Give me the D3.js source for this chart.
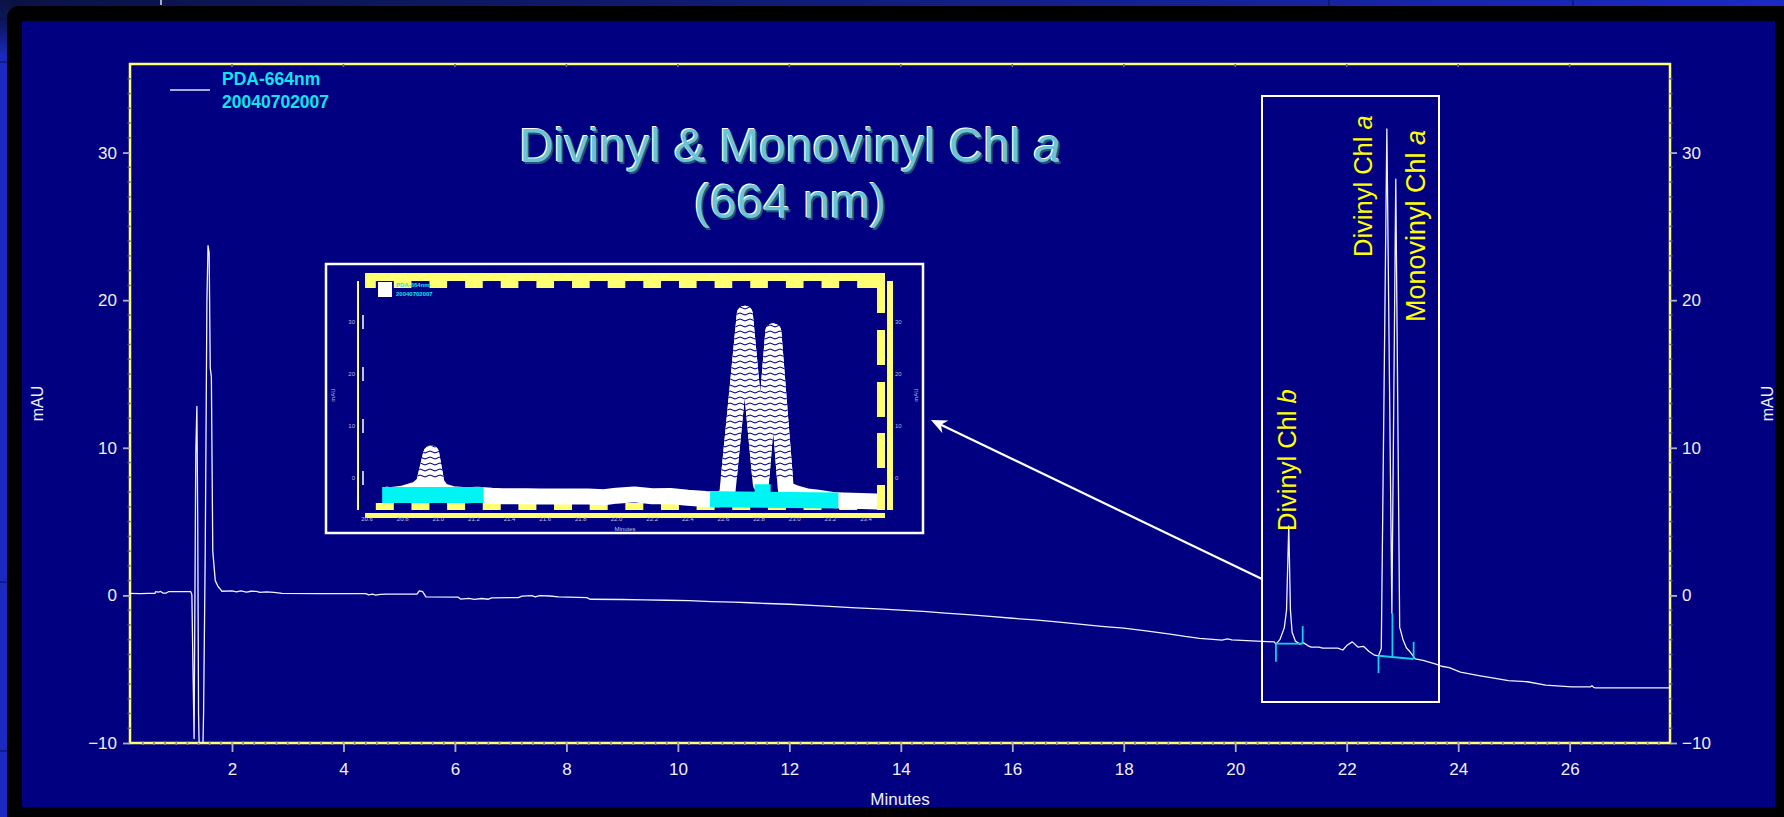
<!DOCTYPE html>
<html><head><meta charset="utf-8">
<script src="https://cdn.jsdelivr.net/npm/d3@7"></script>
<style>html,body{margin:0;padding:0;background:#1a28b8;overflow:hidden}svg{display:block}</style>
</head><body><svg id="c" width="1784" height="817"></svg>
<script>
// ---------- data ----------
const traceMinutes = [0.17,0.35,0.50,0.62,0.63,0.68,0.72,0.76,0.82,0.86,1.05,1.20,1.26,1.28,1.30,1.32,1.335,1.35,1.37,1.385,1.40,1.42,1.47,1.49,1.52,1.55,1.57,1.59,1.61,1.63,1.655,1.70,1.75,1.79,1.82,2.00,2.08,2.16,2.26,2.34,2.44,2.50,2.62,2.75,2.90,3.60,4.40,4.45,4.52,4.58,4.66,4.77,5.32,5.36,5.42,5.48,6.06,6.10,6.25,6.35,6.48,6.60,6.66,7.14,7.20,7.38,7.44,7.52,7.70,7.86,8.37,8.42,9.00,9.40,9.80,10.20,10.60,11.00,11.30,11.60,12.00,12.40,12.80,13.20,13.60,14.00,14.40,14.80,15.20,15.60,16.00,16.40,16.80,17.20,17.60,18.00,18.40,18.80,19.10,19.36,19.60,19.76,19.86,19.94,20.70,20.73,20.80,20.88,20.92,20.96,20.99,21.02,21.08,21.16,21.22,21.30,21.36,21.50,21.57,21.84,21.93,22.00,22.10,22.20,22.30,22.40,22.50,22.57,22.62,22.72,22.81,22.88,22.95,23.01,23.07,23.13,23.23,23.37,23.60,23.70,23.84,24.04,24.37,24.64,24.90,25.24,25.57,26.04,26.37,26.40,26.43,26.45,27.80];
const traceMAU = [0.13,0.12,0.14,0.14,0.25,0.22,0.27,0.16,0.16,0.25,0.25,0.26,0.25,0.05,-5.0,-9.7,0.0,9.6,12.8,5.0,-8.0,-12.0,-12.0,-8.0,3.0,20.0,23.7,23.2,15.4,14.8,3.0,1.0,0.6,0.42,0.28,0.30,0.24,0.30,0.22,0.28,0.27,0.20,0.24,0.20,0.13,0.12,0.12,0.03,0.08,0.02,0.07,0.08,0.08,0.30,0.26,-0.10,-0.12,-0.25,-0.20,-0.27,-0.21,-0.26,-0.17,-0.15,-0.05,-0.02,-0.10,-0.02,-0.04,-0.10,-0.15,-0.26,-0.28,-0.31,-0.33,-0.36,-0.42,-0.46,-0.50,-0.55,-0.60,-0.68,-0.76,-0.84,-0.92,-1.00,-1.08,-1.20,-1.30,-1.42,-1.55,-1.66,-1.80,-1.95,-2.10,-2.22,-2.40,-2.60,-2.78,-2.91,-2.98,-3.03,-2.95,-3.02,-3.15,-3.30,-3.00,-2.20,-1.00,4.70,-1.00,-2.50,-3.10,-3.30,-3.20,-3.40,-3.50,-3.50,-3.57,-3.57,-3.70,-3.40,-3.15,-3.50,-3.45,-3.80,-4.05,-4.10,-3.60,31.60,-1.20,28.20,-2.15,-3.00,-3.55,-3.80,-4.30,-4.40,-4.65,-4.80,-4.90,-5.20,-5.43,-5.60,-5.77,-5.85,-6.08,-6.20,-6.20,-6.12,-6.22,-6.26,-6.26];
const xTickValues = [2,4,6,8,10,12,14,16,18,20,22,24,26];
const yTickValues = [-10,0,10,20,30];
const insetXTickLabels = ["20.6","20.8","21.0","21.2","21.4","21.6","21.8","22.0","22.2","22.4","22.6","22.8","23.0","23.2","23.4"];
const insetYTickValues = [0,10,20,30];
// integration baselines [t1, v1, t2, v2] and drop marks [t, vFrom, vTo]
const baselineSegments = [[20.73,-3.27,21.21,-3.27],[22.57,-4.09,23.20,-4.31]];
const dropMarks = [[20.73,-3.27,-4.5],[21.21,-3.27,-2.08],[22.57,-4.09,-5.26],[22.82,-1.2,-4.16],[23.20,-4.31,-3.15]];
const peakNames = ["Divinyl Chl ","Divinyl Chl ","Monovinyl Chl "];
const peakSuffix = ["b","a","a"];
const legendLines = ["PDA-664nm","20040702007"];
const titleLines = ["Divinyl & Monovinyl Chl ","(664 nm)"];

// ---------- drawing ----------
const svg = d3.select("#c");
const W = 1784, H = 817;
const L = 130, R = 1670, T = 64, B = 743;
const YEL = "#ffff72", FONT = "'Liberation Sans', Arial, Helvetica, sans-serif";
const x = d3.scaleLinear().domain([0.17, 27.8]).range([L, R]);
const y = d3.scaleLinear().domain([-10, 36]).range([B, T]);
const defs = svg.append("defs");

// slide background
const tg = defs.append("linearGradient").attr("id","topg").attr("x1",0).attr("x2",1).attr("y1",0).attr("y2",0);
tg.append("stop").attr("offset",0).attr("stop-color","#0a1244");
tg.append("stop").attr("offset",0.45).attr("stop-color","#101c78");
tg.append("stop").attr("offset",1).attr("stop-color","#1a2ac4");
const lg = defs.append("linearGradient").attr("id","leftg").attr("x1",0).attr("x2",0).attr("y1",0).attr("y2",1);
lg.append("stop").attr("offset",0).attr("stop-color","#0a1244");
lg.append("stop").attr("offset",0.03).attr("stop-color","#0c1860");
lg.append("stop").attr("offset",0.07).attr("stop-color","#1a2ac0");
lg.append("stop").attr("offset",1).attr("stop-color","#1a2ac0");
svg.append("rect").attr("width",W).attr("height",H).attr("fill","#1a2ac0");
svg.append("rect").attr("width",W).attr("height",10).attr("fill","url(#topg)");
svg.append("rect").attr("width",10).attr("height",H).attr("fill","url(#leftg)");
[[1329,0,1329,6],[1573,0,1573,6]].forEach(s=>svg.append("line").attr("x1",s[0]).attr("y1",s[1]).attr("x2",s[2]).attr("y2",s[3]).attr("stroke","#0a0a50").attr("stroke-width",1));
svg.append("line").attr("x1",161).attr("y1",0).attr("x2",161).attr("y2",5).attr("stroke","#dddddd").attr("stroke-width",1.5);
[19,62,582,751].forEach(v=>svg.append("line").attr("x1",0).attr("y1",v).attr("x2",7).attr("y2",v).attr("stroke","#0a1048").attr("stroke-width",1));
svg.append("rect").attr("x",7).attr("y",6).attr("width",1800).attr("height",830).attr("rx",12).attr("fill","#000");
svg.append("rect").attr("x",22).attr("y",21).attr("width",1753).attr("height",786).attr("fill","#000080");

// plot frame
svg.append("rect").attr("x",L).attr("y",T).attr("width",R-L).attr("height",B-T)
  .attr("fill","none").attr("stroke",YEL).attr("stroke-width",2.5);

// minor ticks
const minorX = d3.range(1,139).map(i=>+(i*0.2).toFixed(1)).filter(v=>x(v)>L+2 && x(v)<R-2);
svg.append("g").selectAll("line").data(minorX).join("line")
  .attr("x1",d=>x(d)).attr("x2",d=>x(d)).attr("y1",B-1.5).attr("y2",B+2)
  .attr("stroke","#8a8aa0").attr("stroke-width",1.6);
svg.append("g").selectAll("line").data(xTickValues).join("line")
  .attr("x1",d=>x(d)).attr("x2",d=>x(d)).attr("y1",T).attr("y2",T+3)
  .attr("stroke","#6a6a80").attr("stroke-width",1.6);
const minorY = d3.range(-9,36).filter(v=>v%10!==0);
svg.append("g").selectAll("line").data(minorY).join("line")
  .attr("x1",L-2.5).attr("x2",L+0.5).attr("y1",d=>y(d)).attr("y2",d=>y(d))
  .attr("stroke","#606078").attr("stroke-width",1.5);
svg.append("g").selectAll("line").data(minorY).join("line")
  .attr("x1",R-0.5).attr("x2",R+2.5).attr("y1",d=>y(d)).attr("y2",d=>y(d))
  .attr("stroke","#606078").attr("stroke-width",1.5);

// axes
function styleAxis(g){
  g.select(".domain").remove();
  g.attr("font-family",FONT).attr("font-size",17).attr("color","#f0f0f4");
  g.selectAll(".tick line").attr("stroke","#b0b0c0").attr("stroke-width",1.8);
}
svg.append("g").attr("transform",`translate(0,${B})`)
  .call(d3.axisBottom(x).tickValues(xTickValues).tickSize(9).tickPadding(11).tickFormat(d3.format("d"))).call(styleAxis);
svg.append("g").attr("transform",`translate(${L},0)`)
  .call(d3.axisLeft(y).tickValues(yTickValues).tickSize(7).tickPadding(6).tickFormat(d3.format("d"))).call(styleAxis);
svg.append("g").attr("transform",`translate(${R},0)`)
  .call(d3.axisRight(y).tickValues(yTickValues).tickSize(7).tickPadding(5).tickFormat(d3.format("d"))).call(styleAxis);

// axis titles
svg.append("text").attr("x",(L+R)/2).attr("y",805).attr("text-anchor","middle")
  .attr("font-family",FONT).attr("font-size",17).attr("fill","#f0f0f4").text("Minutes");
[[43,(T+B)/2],[1773,(T+B)/2]].forEach(p=>{
  svg.append("text").attr("transform",`translate(${p[0]},${p[1]}) rotate(-90)`).attr("text-anchor","middle")
    .attr("font-family",FONT).attr("font-size",16).attr("fill","#f0f0f4").text("mAU");
});

// trace
defs.append("clipPath").attr("id","plotclip").append("rect").attr("x",L).attr("y",T).attr("width",R-L).attr("height",B-T);
const traceData = traceMinutes.map((t,i)=>[t,traceMAU[i]]);
const line = d3.line().x(d=>x(d[0])).y(d=>y(d[1]));
svg.append("path").datum(traceData).attr("d",line).attr("clip-path","url(#plotclip)")
  .attr("fill","none").attr("stroke","#f2f2ff").attr("stroke-width",1.3).attr("stroke-linejoin","round");

// integration marks
const CY = "#14cfe6";
svg.append("g").selectAll("line").data(baselineSegments).join("line")
  .attr("x1",d=>x(d[0])).attr("y1",d=>y(d[1])).attr("x2",d=>x(d[2])).attr("y2",d=>y(d[3]))
  .attr("stroke",CY).attr("stroke-width",1.8);
svg.append("g").selectAll("line").data(dropMarks).join("line")
  .attr("x1",d=>x(d[0])).attr("y1",d=>y(d[1])).attr("x2",d=>x(d[0])).attr("y2",d=>y(d[2]))
  .attr("stroke",CY).attr("stroke-width",1.8);

// annotation box + peak labels
svg.append("rect").attr("x",1262).attr("y",96).attr("width",177).attr("height",606)
  .attr("fill","none").attr("stroke","#fff").attr("stroke-width",2);
const labelPos = [[1296,531,25.5],[1372,257,25.5],[1425,322,27]];
labelPos.forEach((p,i)=>{
  const t = svg.append("text").attr("transform",`translate(${p[0]},${p[1]}) rotate(-90)`)
    .attr("font-family",FONT).attr("font-size",p[2]).attr("fill","#ffff00");
  t.append("tspan").text(peakNames[i]);
  t.append("tspan").attr("font-style","italic").text(peakSuffix[i]);
});

// title with bevel effect
const titleOffsets = [[1.6,1.8,"#1e5878"],[-1.2,-1.2,"#ffffff"],[0,0,"#6cc3d3"]];
titleOffsets.forEach(o=>{
  const g = svg.append("g").attr("transform",`translate(${o[0]},${o[1]})`)
    .attr("font-family",FONT).attr("font-size",48).attr("fill",o[2]).attr("text-anchor","middle");
  const t1 = g.append("text").attr("x",790).attr("y",162);
  t1.append("tspan").text(titleLines[0]);
  t1.append("tspan").attr("font-style","italic").text("a");
  g.append("text").attr("x",790).attr("y",218).text(titleLines[1]);
});

// legend
svg.append("line").attr("x1",170).attr("x2",210).attr("y1",90).attr("y2",90).attr("stroke","#aaaadc").attr("stroke-width",2);
legendLines.forEach((s,i)=>svg.append("text").attr("x",222).attr("y",85+i*23)
  .attr("font-family",FONT).attr("font-weight","bold").attr("font-size",17.5).attr("fill","#10e4f0").text(s));

// ---------- inset (magnified view) ----------
const ix = d3.scaleLinear().domain([20.6, 23.4]).range([367, 866]);
const iy = d3.scaleLinear().domain([0, 30]).range([478, 322]);
const inset = svg.append("g");
inset.append("rect").attr("x",326).attr("y",264).attr("width",597).attr("height",269)
  .attr("fill","#000080").attr("stroke","#fff").attr("stroke-width",2.5);
const notchT = d3.range(0,14).map(k=>20.7+0.2*k);
inset.append("rect").attr("x",365).attr("y",273).attr("width",520).attr("height",15).attr("fill",YEL);
inset.append("g").selectAll("rect").data(notchT).join("rect")
  .attr("x",d=>ix(d)-9).attr("y",281).attr("width",18).attr("height",7).attr("fill","#000080");
inset.append("rect").attr("x",357).attr("y",281).attr("width",2).attr("height",229).attr("fill",YEL);
inset.append("rect").attr("x",887).attr("y",281).attr("width",6).attr("height",229).attr("fill",YEL);
[[281,313],[330,365],[382,417],[433,468],[485,510]].forEach(s=>
  inset.append("rect").attr("x",877).attr("y",s[0]).attr("width",8).attr("height",s[1]-s[0]).attr("fill",YEL));
inset.append("g").selectAll("rect").data(notchT).join("rect")
  .attr("x",d=>ix(d)-9).attr("y",503).attr("width",18).attr("height",7).attr("fill",YEL);
inset.append("rect").attr("x",365).attr("y",513).attr("width",520).attr("height",5).attr("fill",YEL);
// inset y ticks & labels
insetYTickValues.forEach(v=>{
  inset.append("line").attr("x1",363).attr("x2",363).attr("y1",iy(v)-7).attr("y2",iy(v)+7).attr("stroke","#fff").attr("stroke-width",1.5);
  inset.append("text").attr("x",355).attr("y",iy(v)+2).attr("text-anchor","end").attr("font-family",FONT).attr("font-size",6).attr("fill","#b8b8d8").text(v);
  inset.append("text").attr("x",895).attr("y",iy(v)+2).attr("font-family",FONT).attr("font-size",6).attr("fill","#b8b8d8").text(v);
});
insetXTickLabels.forEach(s=>inset.append("text").attr("x",ix(+s)).attr("y",521).attr("text-anchor","middle")
  .attr("font-family",FONT).attr("font-size",6).attr("fill","#c0c0e0").text(s));
inset.append("text").attr("x",625).attr("y",531).attr("text-anchor","middle").attr("font-family",FONT).attr("font-size",6).attr("fill","#c0c0e0").text("Minutes");
[[335,395],[918,395]].forEach(p=>inset.append("text").attr("transform",`translate(${p[0]},${p[1]}) rotate(-90)`)
  .attr("text-anchor","middle").attr("font-family",FONT).attr("font-size",6).attr("fill","#b8b8d8").text("mAU"));
inset.append("rect").attr("x",378).attr("y",282).attr("width",14).attr("height",15).attr("fill","#fff");
legendLines.forEach((s,i)=>inset.append("text").attr("x",396).attr("y",287+i*9)
  .attr("font-family",FONT).attr("font-weight","bold").attr("font-size",6).attr("fill","#10e4f0").text(s));
// inset trace: thick aliased look
defs.append("clipPath").attr("id","insetclip").append("rect").attr("x",363).attr("y",282).attr("width",514).attr("height",230);
defs.append("clipPath").attr("id","insetpeakclip").append("rect").attr("x",363).attr("y",282).attr("width",514).attr("height",196);
const hatch = defs.append("pattern").attr("id","hatch").attr("patternUnits","userSpaceOnUse").attr("width",10).attr("height",6);
hatch.append("rect").attr("width",10).attr("height",6).attr("fill","#fff");
hatch.append("path").attr("d","M0,1 L5,3 L10,1").attr("fill","none").attr("stroke","#000080").attr("stroke-width",1.1);
const iline = d3.line().x(d=>ix(d[0])).y(d=>iy(d[1]));
const insetData = traceData.filter(d=>d[0]>=20.3 && d[0]<=23.7);
inset.append("path").datum(insetData).attr("d",iline).attr("clip-path","url(#insetclip)")
  .attr("fill","none").attr("stroke","#fff").attr("stroke-width",16).attr("stroke-linejoin","round");
inset.append("path").datum(insetData).attr("d",iline).attr("clip-path","url(#insetpeakclip)")
  .attr("fill","none").attr("stroke","url(#hatch)").attr("stroke-width",16).attr("stroke-linejoin","round");
inset.append("g").selectAll("line").data(baselineSegments).join("line")
  .attr("x1",d=>ix(d[0])).attr("y1",d=>iy(d[1])).attr("x2",d=>ix(d[2])).attr("y2",d=>iy(d[3]))
  .attr("stroke","#00f4f4").attr("stroke-width",16).attr("stroke-linecap","square");
inset.append("g").selectAll("line").data(dropMarks.filter((d,i)=>i===3)).join("line")
  .attr("x1",d=>ix(d[0])).attr("y1",d=>iy(d[1])).attr("x2",d=>ix(d[0])).attr("y2",d=>iy(d[2]))
  .attr("stroke","#00f4f4").attr("stroke-width",16);

// arrow from annotation box to inset
const tail = [1262,579], tip = [931,420];
const dx = tip[0]-tail[0], dy = tip[1]-tail[1], len = Math.hypot(dx,dy);
const u = [dx/len, dy/len], n = [-u[1], u[0]];
const base = [tip[0]-16*u[0], tip[1]-16*u[1]], notch = [tip[0]-11*u[0], tip[1]-11*u[1]];
svg.append("line").attr("x1",tail[0]).attr("y1",tail[1]).attr("x2",notch[0]).attr("y2",notch[1])
  .attr("stroke","#fff").attr("stroke-width",2.2);
svg.append("path").attr("d",`M${tip}L${base[0]+7*n[0]},${base[1]+7*n[1]}L${notch}L${base[0]-7*n[0]},${base[1]-7*n[1]}Z`).attr("fill","#fff");
</script></body></html>
